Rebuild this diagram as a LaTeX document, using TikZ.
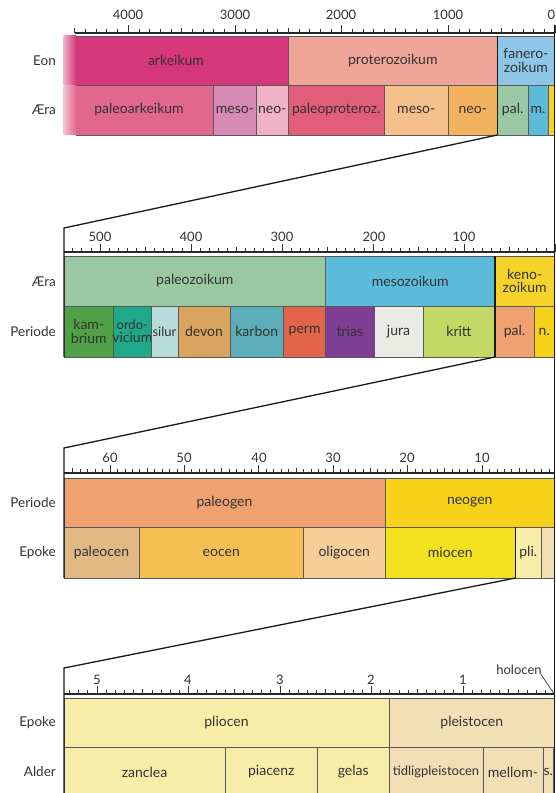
\documentclass[tikz,border=0pt]{standalone}
\usepackage{fontspec}
\setmainfont{Lato}
\definecolor{txt}{HTML}{333333}
\definecolor{cArk}{HTML}{D6367A}
\definecolor{cProt}{HTML}{EFA597}
\definecolor{cFan}{HTML}{8DC6E6}
\definecolor{cPaleoArk}{HTML}{E1678E}
\definecolor{cMesoArk}{HTML}{D58BB3}
\definecolor{cNeoArk}{HTML}{EEB3C6}
\definecolor{cPaleoProt}{HTML}{E15D7A}
\definecolor{cMesoProt}{HTML}{F4C08C}
\definecolor{cNeoProt}{HTML}{F2B25E}
\definecolor{cPalZ}{HTML}{99C8A2}
\definecolor{cMesZ}{HTML}{5BBBD8}
\definecolor{cCenZ}{HTML}{F5D32A}
\definecolor{cKam}{HTML}{50A047}
\definecolor{cOrd}{HTML}{1FA88A}
\definecolor{cSil}{HTML}{B7DADB}
\definecolor{cDev}{HTML}{D9A55E}
\definecolor{cKarb}{HTML}{5BAEB8}
\definecolor{cPerm}{HTML}{E4644B}
\definecolor{cTri}{HTML}{7E3E94}
\definecolor{cJur}{HTML}{EBEBE5}
\definecolor{cKri}{HTML}{C3D966}
\definecolor{cPalg}{HTML}{EFA270}
\definecolor{cNeog}{HTML}{F6D318}
\definecolor{cPaleoc}{HTML}{E2B885}
\definecolor{cEoc}{HTML}{F4C053}
\definecolor{cOlig}{HTML}{F5CE99}
\definecolor{cMioc}{HTML}{F2E11E}
\definecolor{cPlio}{HTML}{F8EDA8}
\definecolor{cPleist}{HTML}{F3DFB6}
\tikzset{
  cellline/.style={draw=black!65, line width=0.6pt},
  celltext/.style={text=txt, font=\fontsize{14}{13.5}\selectfont, align=center, inner sep=0pt},
  smalltext/.style={font=\fontsize{13}{13}\selectfont},
  rowlabel/.style={text=txt, font=\fontsize{13.5}{14}\selectfont, anchor=east, inner sep=0pt},
  scalelabel/.style={text=txt, font=\fontsize{13}{14}\selectfont, inner sep=0pt},
  zoomline/.style={draw=black!90, line width=1.3pt},
  tickline/.style={draw=black!80, line width=0.7pt},
  axisline/.style={draw=black!85, line width=1.1pt},
  boldsep/.style={draw=black!90, line width=1.3pt},
}
% x1 x2 y1 y2 colour name text
\newcommand\gcell[7]{%
  \fill[#5] (#1,#3) rectangle (#2,#4);
  \draw[cellline] (#1,#3) rectangle (#2,#4);
  \node[celltext] (#6) at ({(#1+#2)/2},{(#3+#4)/2}) {#7};
}
% x0, px per unit, step, max index, y, left x
\newcommand\gaxis[6]{%
  \draw[axisline] (#6,#5) -- (555,#5);
  \foreach \i in {0,...,#4} {
    \pgfmathsetmacro\xx{#1-\i*#3*#2}
    \pgfmathtruncatemacro\mm{mod(\i,10)}
    \pgfmathtruncatemacro\hh{mod(\i,5)}
    \ifnum\mm=0 \def\len{8}\else\ifnum\hh=0 \def\len{5.5}\else\def\len{4}\fi\fi
    \draw[tickline] (\xx,#5) -- (\xx,#5-\len);
  }
}
\begin{document}
\begin{tikzpicture}[x=1pt,y=-1pt]
\useasboundingbox (0,0) rectangle (556,793);
\fill[white] (0,0) rectangle (556,793);

% ---------------- Panel 1 ----------------
\gaxis{555}{0.1067}{100}{45}{33}{75}
\node[scalelabel] (s1a) at (128,15) {4000};
\node[scalelabel] (s1b) at (235,15) {3000};
\node[scalelabel] (s1c) at (341,15) {2000};
\node[scalelabel] (s1d) at (448,15) {1000};
\node[scalelabel] (s1e) at (551.5,15) {0};

\fill[cArk] (64,36) rectangle (288.3,85);
\fill[cPaleoArk] (64,85) rectangle (213.6,135);
\shade[left color=white!60!cArk, right color=cArk] (63.5,35.7) rectangle (76,84.7);
\shade[left color=white!60!cPaleoArk, right color=cPaleoArk] (63.5,85.3) rectangle (76,134.7);
\draw[cellline] (76,36) -- (288.3,36) -- (288.3,135) -- (76,135);
\draw[cellline] (76,85) -- (288.3,85);
\node[celltext] (arkeikum) at (176,60.5) {arkeikum};
\node[celltext] (paleoark) at (139,110) {paleoarkeikum};

\gcell{288.3}{497.3}{36}{85}{cProt}{proterozoikum}{proterozoikum}
\gcell{497.3}{554.5}{36}{85}{cFan}{fanerozoikum}{fanero-\\zoikum}
\gcell{213.6}{256.2}{85}{135}{cMesoArk}{mesoark}{meso-}
\gcell{256.2}{288.3}{85}{135}{cNeoArk}{neoark}{neo-}
\gcell{288.3}{384.3}{85}{135}{cPaleoProt}{paleoprot}{paleoproteroz.}
\gcell{384.3}{448.3}{85}{135}{cMesoProt}{mesoprot}{meso-}
\gcell{448.3}{497.3}{85}{135}{cNeoProt}{neoprot}{neo-}
\gcell{497.3}{528.1}{85}{135}{cPalZ}{palz1}{pal.}
\gcell{528.1}{548}{85}{135}{cMesZ}{mesz1}{m.}
\gcell{548}{554.5}{85}{135}{cCenZ}{cenz1}{}
\draw[boldsep] (497.3,36) -- (497.3,135);

\node[rowlabel] (l1a) at (56,61) {Eon};
\node[rowlabel] (l1b) at (56,110) {Æra};

% ---------------- Panel 2 ----------------
\gaxis{555}{0.91}{10}{53}{252}{64}
\node[scalelabel] (s2a) at (100,237) {500};
\node[scalelabel] (s2b) at (191,237) {400};
\node[scalelabel] (s2c) at (282,237) {300};
\node[scalelabel] (s2d) at (374,237) {200};
\node[scalelabel] (s2e) at (464,237) {100};

\gcell{64}{325.7}{256}{306}{cPalZ}{paleozoikum}{paleozoikum}
\gcell{325.7}{494.9}{256}{306}{cMesZ}{mesozoikum}{mesozoikum}
\gcell{494.9}{554.5}{256}{306}{cCenZ}{kenozoikum}{keno-\\zoikum}
\gcell{64}{113.6}{306}{357}{cKam}{kambrium}{kam-\\brium}
\gcell{113.6}{151}{306}{357}{cOrd}{ordovicium}{\fontsize{13}{13}\selectfont ordo-\\vicium}
\gcell{151}{178}{306}{357}{cSil}{silur}{\fontsize{13}{13}\selectfont silur}
\gcell{178}{230}{306}{357}{cDev}{devon}{devon}
\gcell{230}{283.5}{306}{357}{cKarb}{karbon}{karbon}
\gcell{283.5}{325.7}{306}{357}{cPerm}{perm}{perm}
\gcell{325.7}{374}{306}{357}{cTri}{trias}{trias}
\gcell{374}{423}{306}{357}{cJur}{jura}{jura}
\gcell{423}{494.9}{306}{357}{cKri}{kritt}{kritt}
\gcell{494.9}{534.1}{306}{357}{cPalg}{palg2}{pal.}
\gcell{534.1}{554.5}{306}{357}{cNeog}{neog2}{n.}
\draw[boldsep] (494.9,256) -- (494.9,357);

\node[rowlabel] (l2a) at (56,282) {Æra};
\node[rowlabel] (l2b) at (56,332) {Periode};

% ---------------- Panel 3 ----------------
\gaxis{556.4}{7.44}{1}{65}{473}{64}
\node[scalelabel] (s3a) at (110,458) {60};
\node[scalelabel] (s3b) at (184,458) {50};
\node[scalelabel] (s3c) at (259,458) {40};
\node[scalelabel] (s3d) at (333,458) {30};
\node[scalelabel] (s3e) at (407,458) {20};
\node[scalelabel] (s3f) at (482,458) {10};

\gcell{64}{385}{478}{527}{cPalg}{paleogen}{paleogen}
\gcell{385}{554.5}{478}{527}{cNeog}{neogen}{neogen}
\gcell{64}{139}{527}{578}{cPaleoc}{paleocen}{paleocen}
\gcell{139}{303.5}{527}{578}{cEoc}{eocen}{eocen}
\gcell{303.5}{385}{527}{578}{cOlig}{oligocen}{oligocen}
\gcell{385}{515.5}{527}{578}{cMioc}{miocen}{miocen}
\gcell{515.5}{541}{527}{578}{cPlio}{pli3}{pli.}
\gcell{541}{554.5}{527}{578}{cPleist}{pleist3}{}
\draw[boldsep] (515.5,527) -- (515.5,578);

\node[rowlabel] (l3a) at (56,503) {Periode};
\node[rowlabel] (l3b) at (56,553) {Epoke};

% ---------------- Panel 4 ----------------
\gaxis{554.5}{91.5}{0.1}{53}{694}{64}
\node[scalelabel] (s4a) at (97,680) {5};
\node[scalelabel] (s4b) at (188,680) {4};
\node[scalelabel] (s4c) at (280,680) {3};
\node[scalelabel] (s4d) at (371,680) {2};
\node[scalelabel] (s4e) at (463,680) {1};
\node[scalelabel] (holo) at (519,670) {holocen};

\gcell{64}{389}{698}{747}{cPlio}{pliocen}{pliocen}
\gcell{389}{554.5}{698}{747}{cPleist}{pleistocen}{pleistocen}
\gcell{64}{225}{747}{797}{cPlio}{zanclea}{zanclea}
\gcell{225}{317.5}{747}{797}{cPlio}{piacenz}{piacenz}
\gcell{317.5}{389}{747}{797}{cPlio}{gelas}{gelas}
\gcell{389}{483}{747}{797}{cPleist}{tidlig}{\fontsize{13}{13}\selectfont tidligpleistocen}
\gcell{483}{543}{747}{797}{cPleist}{mellom}{mellom-}
\gcell{543}{553.4}{747}{797}{cPleist}{sen}{s.}

\node[rowlabel] (l4a) at (56,723) {Epoke};
\node[rowlabel] (l4b) at (56,772) {Alder};

\coordinate (hend) at (553.5,693);
\draw[black!80, line width=0.7pt] ([xshift=-1pt,yshift=1pt]holo.south east) -- (hend);

% ---------------- zoom connectors ----------------
\coordinate (z1a) at (497.3,135);
\coordinate (z1b) at (64,228);
\coordinate (z1c) at (64,357);
\coordinate (z2a) at (494.9,357);
\coordinate (z2b) at (64,448);
\coordinate (z2c) at (64,578);
\coordinate (z3a) at (515.5,578);
\coordinate (z3b) at (64,668);
\coordinate (z3c) at (64,793);
\draw[zoomline] (z1a) -- (z1b) -- (z1c);
\draw[zoomline] (z2a) -- (z2b) -- (z2c);
\draw[zoomline] (z3a) -- (z3b) -- (z3c);

\coordinate (rtop) at (554.5,25);
\coordinate (rbot) at (554.5,793);
\draw[zoomline] (rtop) -- (rbot);
\end{tikzpicture}
\end{document}
